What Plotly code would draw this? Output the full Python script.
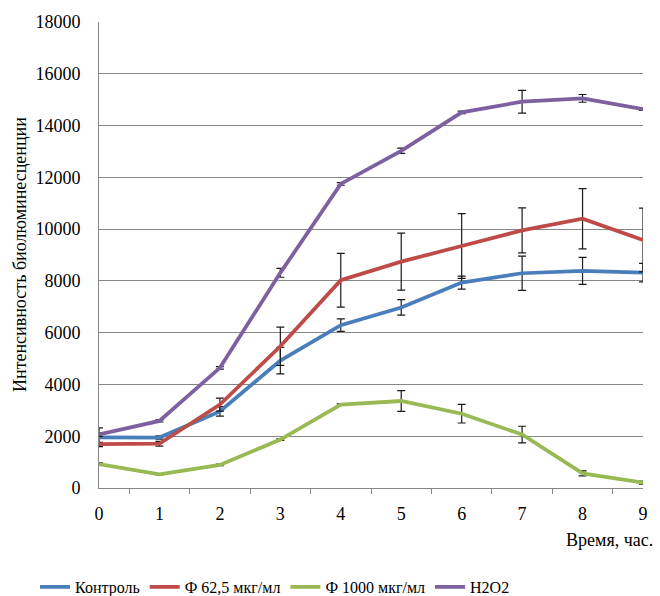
import plotly.graph_objects as go

hours = [0, 1, 2, 3, 4, 5, 6, 7, 8, 9]
tick_labels = ["0", "1", "2", "3", "4", "5", "6", "7", "8", "9"]

series_names = ["Контроль", "Ф 62,5 мкг/мл", "Ф 1000 мкг/мл", "H2O2"]
control = [1960, 1950, 2960, 4920, 6290, 6975, 7935, 8295, 8385, 8320]
control_err = [365, 60, 180, 510, 240, 300, 250, 660, 520, 360]
f625 = [1690, 1710, 3220, 5475, 8025, 8745, 9346, 9950, 10400, 9580]
f625_err = [70, 90, 250, 740, 1040, 1100, 1250, 870, 1160, 1230]
f1000 = [925, 525, 890, 1870, 3220, 3360, 2870, 2065, 565, 205]
f1000_err = [50, 20, 30, 30, 30, 400, 360, 320, 100, 60]
h2o2 = [2065, 2590, 4640, 8310, 11745, 13025, 14510, 14920, 15050, 14630]
h2o2_err = [70, 40, 50, 170, 50, 100, 50, 440, 150, 40]

colors = ["#4a7ebb", "#be4b48", "#98b954", "#7d60a0"]
values = [control, f625, f1000, h2o2]
errors = [control_err, f625_err, f1000_err, h2o2_err]

FONT = "Liberation Serif, Times New Roman, serif"

fig = go.Figure()
for name, vals, errs, col in zip(series_names, values, errors, colors):
    fig.add_trace(go.Scatter(
        x=hours, y=vals, name=name, mode="lines",
        line=dict(color=col, width=3.75),
        error_y=dict(type="data", array=errs, visible=True,
                     color="#1a1a1a", thickness=1.2, width=4),
        cliponaxis=False,
    ))

fig.update_layout(
    width=660, height=596,
    margin=dict(l=99, r=14, t=20, b=108),
    paper_bgcolor="white", plot_bgcolor="white",
    font=dict(family=FONT, size=16, color="#000"),
    showlegend=True,
    legend=dict(
        orientation="h", xref="container", yref="container",
        x=35 / 660, y=1 - 570 / 596, xanchor="left", yanchor="top",
        font=dict(family=FONT, size=16, color="#000"),
        itemwidth=30, tracegroupgap=0,
    ),
    xaxis=dict(
        range=[0, 9], tickvals=hours, ticktext=tick_labels,
        showgrid=False, zeroline=False,
        showline=True, linecolor="#868686", linewidth=1,
        ticks="", ticklabelstandoff=9,
        tickfont=dict(family=FONT, size=18),
        minor=dict(tickvals=[0.5, 1.5, 2.5, 3.5, 4.5, 5.5, 6.5, 7.5, 8.5],
                   ticks="outside", ticklen=5, tickcolor="#868686", showgrid=False),
    ),
    yaxis=dict(
        range=[0, 18000], dtick=2000, tickformat="d",
        showgrid=True, gridcolor="#868686", gridwidth=1,
        zeroline=False, showline=True, linecolor="#868686", linewidth=1,
        ticks="", ticklabelstandoff=14,
        tickfont=dict(family=FONT, size=18),
    ),
    annotations=[
        dict(text="Время, час.", xref="paper", yref="paper", x=1, y=0,
             xanchor="right", yanchor="middle", xshift=12, yshift=-52,
             showarrow=False, font=dict(family=FONT, size=18)),
        dict(text="Интенсивность биолюминесценции", xref="paper", yref="paper",
             x=0, y=0.5, xanchor="center", yanchor="middle", xshift=-79,
             textangle=-90, showarrow=False, font=dict(family=FONT, size=18)),
    ],
)

fig.write_html(
    "out.html",
    config={"displayModeBar": False},
    post_script="document.body.style.margin='0';document.body.style.overflow='hidden';",
)
